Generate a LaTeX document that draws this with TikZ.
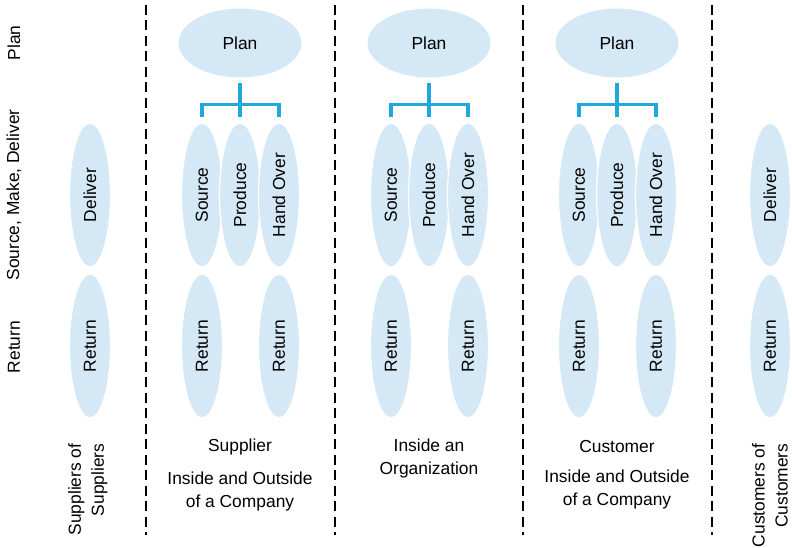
\documentclass[tikz,border=0pt]{standalone}
\usepackage{fontspec}
\setmainfont{Liberation Sans}
\usetikzlibrary{shapes.geometric, positioning}

\definecolor{bubble}{RGB}{212,232,246}
\definecolor{forkblue}{RGB}{30,168,220}

\tikzset{
  every node/.style={font=\fontsize{17.4}{23}\selectfont},
  stage/.style={ellipse, fill=bubble, draw=white, line width=1.2pt,
    minimum width=144pt, minimum height=41pt, inner sep=0pt, rotate=90},
  planbox/.style={ellipse, fill=bubble, minimum width=123pt,
    minimum height=69pt, inner sep=0pt},
  fork/.style={draw=forkblue, line width=3.5pt},
  divider/.style={dash pattern=on 10pt off 5.5pt, line width=1.1pt},
  rowlabel/.style={rotate=90},
  sidelabel/.style={rotate=90, anchor=east, align=right},
}

\begin{document}
\begin{tikzpicture}[x=1pt, y=-1pt]
\useasboundingbox (0,0) rectangle (792,548);

% row labels
\node[rowlabel] (row-plan) at (14,43) {Plan};
\node[rowlabel] (row-smd) at (14,195) {Source, Make, Deliver};
\node[rowlabel] (row-return) at (14,347) {Return};

% dividers
\foreach \x in {146, 335, 523, 712}
  \draw[divider] (\x,5) -- (\x,535);

% suppliers of suppliers
\node[stage] (deliver-ss) at (90,195) {Deliver};
\node[stage] (return-ss) at (90,346) {Return};
\node[sidelabel] (label-ss) at (88,440) {Suppliers of\\Suppliers};

\begin{scope}[xshift=240pt]

\node[planbox] (plan-s) at (0,43) {Plan};
\node[stage] (source-s) at (-38,195) {Source};
\node[stage] (produce-s) at (0,195) {Produce};
\node[stage] (handover-s) at (39,195) {Hand Over};
\draw[fork] ([yshift=-5pt]plan-s.south) -- ([yshift=5pt]produce-s.east);
\draw[fork] ([yshift=5pt]source-s.east) |- ([yshift=-27pt]plan-s.south)
  -| ([yshift=5pt]handover-s.east);

\node[stage] (return-s1) at (-38,346) {Return};
\node[stage] (return-s2) at (39,346) {Return};

\node (label-s) at (0,447) {Supplier};
\node[align=center, below=10pt of label-s] {Inside and Outside\\of a Company};

\end{scope}

\begin{scope}[xshift=429pt]

\node[planbox] (plan-o) at (0,43) {Plan};
\node[stage] (source-o) at (-38,195) {Source};
\node[stage] (produce-o) at (0,195) {Produce};
\node[stage] (handover-o) at (39,195) {Hand Over};
\draw[fork] ([yshift=-5pt]plan-o.south) -- ([yshift=5pt]produce-o.east);
\draw[fork] ([yshift=5pt]source-o.east) |- ([yshift=-27pt]plan-o.south)
  -| ([yshift=5pt]handover-o.east);

\node[stage] (return-o1) at (-38,346) {Return};
\node[stage] (return-o2) at (39,346) {Return};

\node[align=center] (label-o) at (0,458.5) {Inside an\\Organization};

\end{scope}

\begin{scope}[xshift=617pt]

\node[planbox] (plan-c) at (0,43) {Plan};
\node[stage] (source-c) at (-38,195) {Source};
\node[stage] (produce-c) at (0,195) {Produce};
\node[stage] (handover-c) at (39,195) {Hand Over};
\draw[fork] ([yshift=-5pt]plan-c.south) -- ([yshift=5pt]produce-c.east);
\draw[fork] ([yshift=5pt]source-c.east) |- ([yshift=-27pt]plan-c.south)
  -| ([yshift=5pt]handover-c.east);

\node[stage] (return-c1) at (-38,346) {Return};
\node[stage] (return-c2) at (39,346) {Return};

\node (label-c) at (0,447) {Customer};
\node[align=center, below=10pt of label-c] {Inside and Outside\\of a Company};

\end{scope}

% customers of customers
\node[stage] (deliver-cc) at (770,195) {Deliver};
\node[stage] (return-cc) at (770,346) {Return};
\node[sidelabel] (label-cc) at (770,440) {Customers of\\Customers};

\end{tikzpicture}
\end{document}
